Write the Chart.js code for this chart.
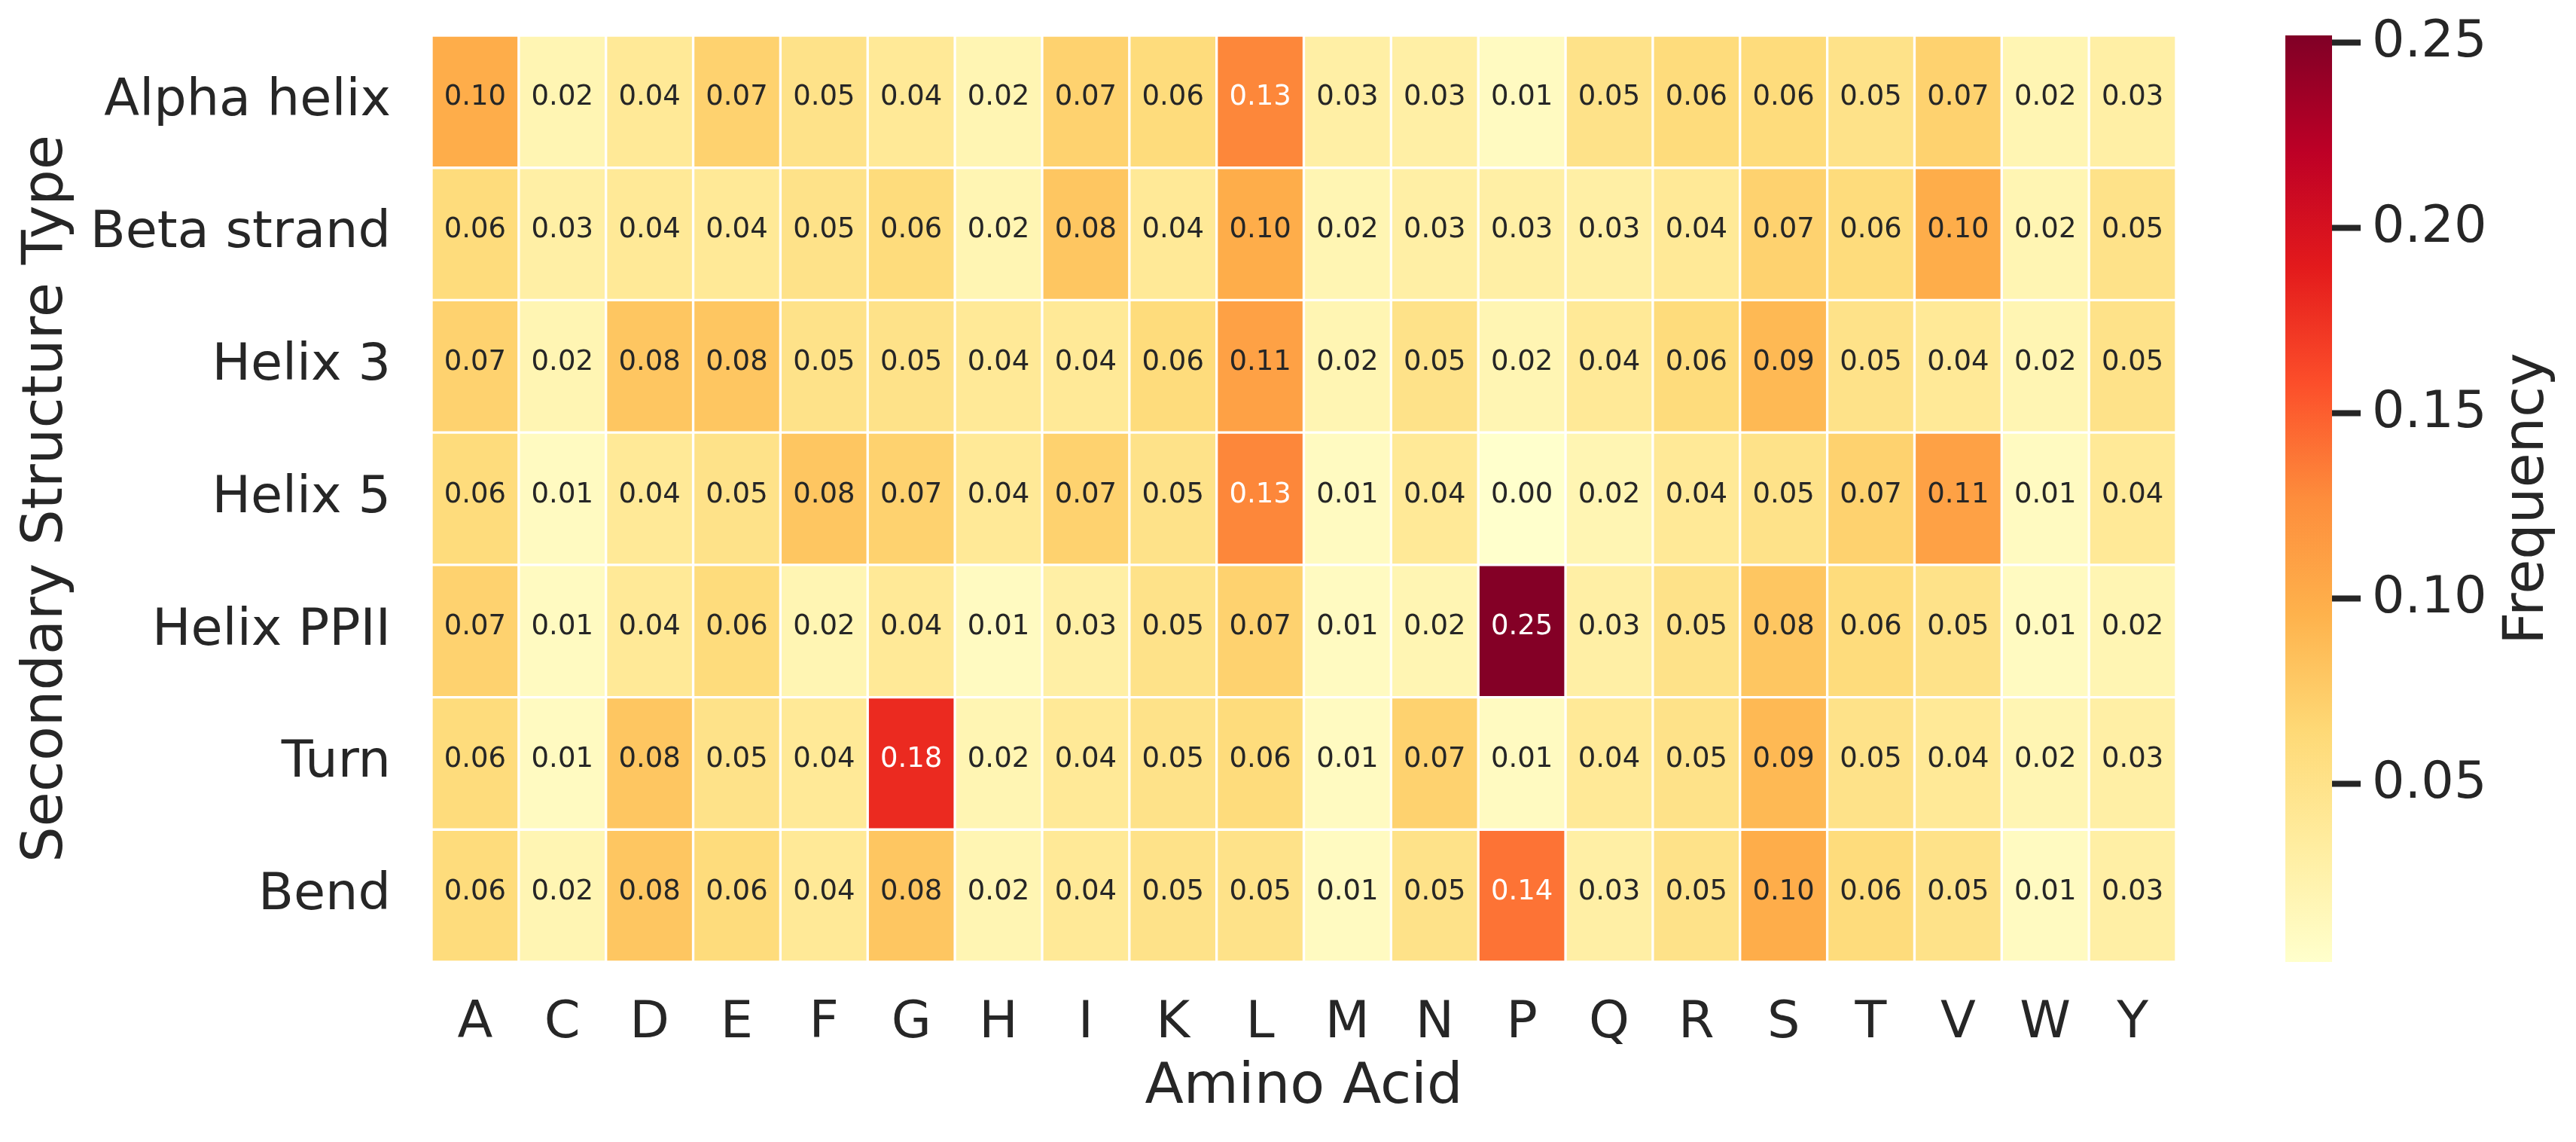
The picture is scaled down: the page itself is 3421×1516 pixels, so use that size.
<!DOCTYPE html>
<html>
<head>
<meta charset="utf-8">
<script src="https://cdn.jsdelivr.net/npm/chart.js@4.4.1/dist/chart.umd.min.js"></script>
<style>
  body { margin: 0; background: #fff; }
  #heatWrap { position: absolute; left: 0; top: 0; width: 2960px; height: 1516px; }
  #barWrap { position: absolute; left: 2960px; top: 0; width: 461px; height: 1516px; }
</style>
</head>
<body>
<div id="heatWrap"><canvas id="heatChart"></canvas></div>
<div id="barWrap"><canvas id="colorbar"></canvas></div>
<script>
// data
const aminoAcids = ['A','C','D','E','F','G','H','I','K','L','M','N','P','Q','R','S','T','V','W','Y'];
const structureTypes = ['Alpha helix','Beta strand','Helix 3','Helix 5','Helix PPII','Turn','Bend'];

const alphaHelix = [0.10,0.02,0.04,0.07,0.05,0.04,0.02,0.07,0.06,0.13,0.03,0.03,0.01,0.05,0.06,0.06,0.05,0.07,0.02,0.03];
const betaStrand = [0.06,0.03,0.04,0.04,0.05,0.06,0.02,0.08,0.04,0.10,0.02,0.03,0.03,0.03,0.04,0.07,0.06,0.10,0.02,0.05];
const helix3     = [0.07,0.02,0.08,0.08,0.05,0.05,0.04,0.04,0.06,0.11,0.02,0.05,0.02,0.04,0.06,0.09,0.05,0.04,0.02,0.05];
const helix5     = [0.06,0.01,0.04,0.05,0.08,0.07,0.04,0.07,0.05,0.13,0.01,0.04,0.00,0.02,0.04,0.05,0.07,0.11,0.01,0.04];
const helixPPII  = [0.07,0.01,0.04,0.06,0.02,0.04,0.01,0.03,0.05,0.07,0.01,0.02,0.25,0.03,0.05,0.08,0.06,0.05,0.01,0.02];
const turn       = [0.06,0.01,0.08,0.05,0.04,0.18,0.02,0.04,0.05,0.06,0.01,0.07,0.01,0.04,0.05,0.09,0.05,0.04,0.02,0.03];
const bend       = [0.06,0.02,0.08,0.06,0.04,0.08,0.02,0.04,0.05,0.05,0.01,0.05,0.14,0.03,0.05,0.10,0.06,0.05,0.01,0.03];
const frequencies = [alphaHelix, betaStrand, helix3, helix5, helixPPII, turn, bend];

const colorbarTicks = [0.05, 0.10, 0.15, 0.20, 0.25];
const colorMin = 0.002;
const colorMax = 0.252;

// YlOrRd colormap
const ylOrRd = ['#ffffcc','#ffeda0','#fed976','#feb24c','#fd8d3c','#fc4e2a','#e31a1c','#bd0026','#800026'];

function hexToRgb(h) {
  return [parseInt(h.slice(1,3),16), parseInt(h.slice(3,5),16), parseInt(h.slice(5,7),16)];
}

function colorRgb(v) {
  let t = (v - colorMin) / (colorMax - colorMin);
  t = Math.max(0, Math.min(1, t));
  const pos = t * (ylOrRd.length - 1);
  const i = Math.min(Math.floor(pos), ylOrRd.length - 2);
  const f = pos - i;
  const a = hexToRgb(ylOrRd[i]), b = hexToRgb(ylOrRd[i+1]);
  return a.map((x, k) => Math.round(x + (b[k] - x) * f));
}

function colorFor(v) {
  const c = colorRgb(v);
  return 'rgb(' + c.join(',') + ')';
}

// same rule seaborn uses for annotation colour
function textColorFor(v) {
  const lin = colorRgb(v).map(x => {
    x = x / 255;
    return x <= 0.03928 ? x / 12.92 : Math.pow((x + 0.055) / 1.055, 2.4);
  });
  const lum = 0.2126 * lin[0] + 0.7152 * lin[1] + 0.0722 * lin[2];
  return lum > 0.408 ? '#262626' : '#ffffff';
}

Chart.defaults.font.family = '"DejaVu Sans"';
Chart.defaults.color = '#262626';

const cellLabels = {
  id: 'cellLabels',
  afterDatasetsDraw(chart) {
    const ctx = chart.ctx;
    ctx.save();
    ctx.font = '37px "DejaVu Sans"';
    ctx.textAlign = 'center';
    ctx.textBaseline = 'middle';
    chart.data.datasets.forEach((ds, r) => {
      chart.getDatasetMeta(r).data.forEach((bar, c) => {
        const v = frequencies[r][c];
        ctx.fillStyle = textColorFor(v);
        ctx.fillText(v.toFixed(2), bar.x, (bar.y + bar.base) / 2 - 5);
      });
    });
    ctx.restore();
  }
};

const heatDatasets = structureTypes.map((name, r) => ({
  label: name,
  data: aminoAcids.map(() => [r, r + 1]),
  backgroundColor: frequencies[r].map(colorFor),
  borderColor: '#ffffff',
  borderWidth: 2,
  borderSkipped: false,
  barPercentage: 1,
  categoryPercentage: 1,
  grouped: false
}));

new Chart(document.getElementById('heatChart'), {
  type: 'bar',
  data: { labels: aminoAcids, datasets: heatDatasets },
  options: {
    responsive: true,
    maintainAspectRatio: false,
    animation: false,
    layout: { padding: { left: 0, top: 47, right: 70, bottom: 0 } },
    plugins: { legend: { display: false }, tooltip: { enabled: false } },
    scales: {
      x: {
        grid: { display: false, drawTicks: false },
        border: { display: false },
        ticks: { font: { size: 68.5 }, padding: 41, maxRotation: 0, autoSkip: false },
        title: { display: true, text: 'Amino Acid', font: { size: 75 }, padding: { top: 0, bottom: 26 } },
        afterFit(axis) {
          axis.height = 239;
          axis.paddingLeft = 0;
          axis.paddingRight = 0;
        }
      },
      y: {
        type: 'linear',
        min: 0,
        max: structureTypes.length,
        reverse: true,
        grid: { display: false, drawTicks: false },
        border: { display: false },
        afterBuildTicks(axis) {
          axis.ticks = structureTypes.map((s, i) => ({ value: i + 0.5 }));
        },
        ticks: {
          font: { size: 68.5 },
          padding: 54,
          autoSkip: false,
          callback: (value, index) => structureTypes[index]
        },
        title: { display: true, text: 'Secondary Structure Type', font: { size: 75 }, padding: { top: 18, bottom: 0 } },
        afterFit(axis) {
          axis.width = 573;
          axis.paddingTop = 0;
          axis.paddingBottom = 0;
        }
      }
    }
  },
  plugins: [cellLabels]
});

// colour bar
const colorbarLabel = {
  id: 'colorbarLabel',
  afterDraw(chart) {
    const ctx = chart.ctx;
    const s = chart.scales.y;
    ctx.save();
    ctx.translate(s.right - 63, (s.top + s.bottom) / 2);
    ctx.rotate(-Math.PI / 2);
    ctx.font = '75px "DejaVu Sans"';
    ctx.fillStyle = '#262626';
    ctx.textAlign = 'center';
    ctx.textBaseline = 'middle';
    ctx.fillText('Frequency', 0, 0);
    ctx.restore();
  }
};

new Chart(document.getElementById('colorbar'), {
  type: 'bar',
  data: {
    labels: ['Frequency'],
    datasets: [{
      data: [[colorMin, colorMax]],
      backgroundColor(c) {
        const area = c.chart.chartArea;
        if (!area) return ylOrRd[4];
        const g = c.chart.ctx.createLinearGradient(0, area.bottom, 0, area.top);
        ylOrRd.forEach((col, i) => g.addColorStop(i / (ylOrRd.length - 1), col));
        return g;
      },
      borderWidth: 0,
      barPercentage: 1,
      categoryPercentage: 1
    }]
  },
  options: {
    responsive: true,
    maintainAspectRatio: false,
    animation: false,
    layout: { padding: { left: 75, top: 47, right: 0, bottom: 239 } },
    plugins: { legend: { display: false }, tooltip: { enabled: false } },
    scales: {
      x: { display: false },
      y: {
        position: 'right',
        min: colorMin,
        max: colorMax,
        afterBuildTicks(axis) {
          axis.ticks = colorbarTicks.map(v => ({ value: v }));
        },
        grid: { drawOnChartArea: false, drawTicks: true, tickLength: 38, tickWidth: 8, tickColor: '#262626' },
        border: { display: false },
        ticks: { font: { size: 68.5 }, padding: 15, callback: v => v.toFixed(2) },
        afterFit(axis) {
          axis.width = 324;
          axis.paddingTop = 0;
          axis.paddingBottom = 0;
        }
      }
    }
  },
  plugins: [colorbarLabel]
});
</script>
</body>
</html>
